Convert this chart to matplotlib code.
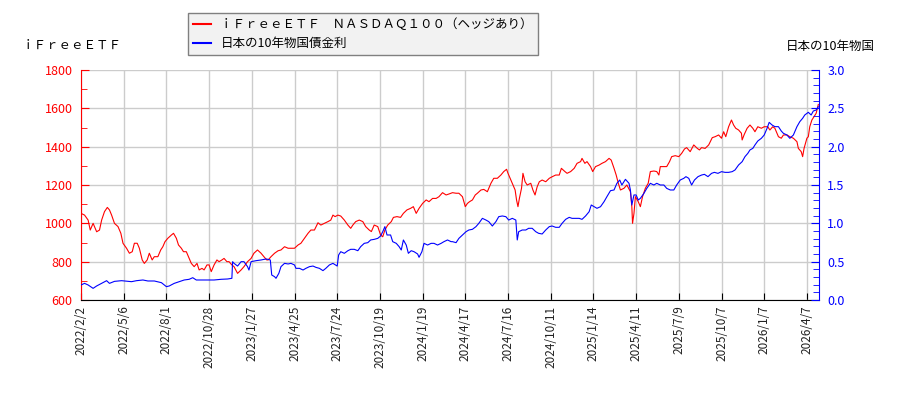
import matplotlib
matplotlib.use("Agg")
import matplotlib.pyplot as plt
from matplotlib.lines import Line2D
from matplotlib.ticker import MultipleLocator

plt.rcParams["font.family"] = ["Noto Sans CJK JP", "DejaVu Sans"]

# ── data (trading-day index, value) ──────────────────────────────────────────
etf_pts = [
    (0, 1052), (5, 1043), (10, 1017), (13, 965), (17, 1000), (22, 956), (26, 965), (29, 1017),
    (33, 1061), (37, 1083), (40, 1070), (43, 1043), (47, 1000), (52, 983), (56, 948), (59, 896),
    (64, 870), (68, 844), (72, 852), (75, 896), (79, 896), (82, 870), (86, 809), (89, 791),
    (93, 809), (96, 844), (100, 809), (103, 826), (108, 826), (112, 861), (115, 878), (118, 904),
    (122, 922), (127, 939), (130, 948), (134, 922), (137, 887), (141, 870), (144, 852), (148, 852),
    (151, 826), (155, 791), (159, 774), (163, 791), (166, 757), (170, 765), (173, 757), (177, 783),
    (180, 783), (183, 748), (187, 783), (191, 809), (194, 800), (198, 809), (201, 817), (205, 800),
    (208, 800), (212, 783), (215, 774), (220, 739), (225, 757), (229, 774), (234, 800), (239, 817),
    (243, 844), (248, 861), (253, 844), (257, 826), (261, 809), (263, 809), (267, 826), (272, 844),
    (277, 857), (281, 861), (286, 878), (291, 870), (295, 870), (300, 870), (305, 887), (309, 896),
    (314, 922), (319, 948), (323, 965), (328, 965), (333, 1003), (337, 991), (342, 1000), (347, 1009),
    (351, 1017), (354, 1043), (357, 1035), (361, 1043), (365, 1038), (370, 1017), (375, 991), (379, 974),
    (382, 991), (386, 1009), (391, 1017), (396, 1009), (400, 983), (405, 965), (408, 957), (412, 991),
    (417, 983), (421, 939), (424, 930), (427, 965), (431, 991), (436, 1009), (439, 1031), (444, 1035),
    (449, 1031), (453, 1052), (458, 1070), (463, 1078), (467, 1087), (471, 1052), (475, 1078), (480, 1104),
    (485, 1122), (489, 1113), (494, 1130), (499, 1130), (503, 1139), (508, 1160), (513, 1148), (517, 1153),
    (522, 1160), (527, 1157), (531, 1157), (536, 1139), (540, 1087), (543, 1104), (546, 1113), (550, 1122),
    (554, 1148), (557, 1157), (562, 1174), (566, 1177), (571, 1165), (576, 1209), (580, 1235), (585, 1235),
    (590, 1252), (594, 1270), (598, 1282), (600, 1261), (604, 1226), (607, 1200), (610, 1174), (612, 1122),
    (614, 1087), (616, 1130), (619, 1183), (621, 1261), (624, 1217), (627, 1200), (632, 1209), (635, 1174),
    (638, 1148), (641, 1191), (644, 1217), (648, 1226), (653, 1217), (658, 1235), (662, 1243), (667, 1252),
    (672, 1252), (675, 1287), (680, 1270), (683, 1261), (688, 1270), (693, 1287), (697, 1313), (702, 1322),
    (704, 1339), (708, 1313), (711, 1322), (716, 1296), (719, 1270), (723, 1296), (728, 1304), (732, 1313),
    (737, 1322), (742, 1339), (745, 1330), (749, 1287), (752, 1252), (755, 1209), (758, 1174), (763, 1183),
    (767, 1200), (772, 1165), (774, 1087), (775, 1000), (777, 1052), (779, 1139), (783, 1113), (786, 1087),
    (789, 1139), (793, 1183), (797, 1209), (800, 1270), (805, 1273), (809, 1270), (812, 1252), (814, 1296),
    (819, 1296), (823, 1296), (827, 1322), (830, 1348), (835, 1353), (840, 1348), (844, 1365), (848, 1388),
    (851, 1395), (856, 1374), (861, 1409), (866, 1391), (869, 1383), (872, 1395), (877, 1391), (882, 1409),
    (887, 1447), (891, 1452), (896, 1461), (900, 1444), (903, 1478), (906, 1452), (910, 1504), (914, 1539),
    (917, 1513), (920, 1496), (924, 1487), (928, 1470), (929, 1435), (932, 1464), (936, 1496), (940, 1513),
    (944, 1496), (947, 1478), (951, 1504), (956, 1496), (960, 1504), (965, 1504), (968, 1487), (972, 1504),
    (975, 1496), (980, 1452), (984, 1444), (987, 1461), (992, 1461), (996, 1452), (1001, 1444), (1006, 1426),
    (1008, 1391), (1012, 1374), (1014, 1348), (1016, 1391), (1020, 1444), (1022, 1452), (1024, 1504),
    (1027, 1539), (1030, 1557), (1033, 1574), (1036, 1620),
]

jgb_pts = [
    (0, 0.196), (5, 0.217), (10, 0.196), (17, 0.152), (22, 0.183), (29, 0.217), (36, 0.252), (40, 0.217),
    (47, 0.243), (57, 0.252), (71, 0.239), (78, 0.252), (87, 0.261), (94, 0.248), (103, 0.248), (113, 0.226),
    (120, 0.174), (124, 0.183), (131, 0.217), (138, 0.239), (145, 0.261), (152, 0.270), (157, 0.291),
    (162, 0.261), (169, 0.261), (178, 0.261), (187, 0.261), (197, 0.270), (206, 0.274), (212, 0.283),
    (213, 0.500), (215, 0.478), (220, 0.443), (225, 0.500), (229, 0.500), (234, 0.435), (236, 0.391),
    (239, 0.500), (246, 0.513), (253, 0.522), (260, 0.535), (263, 0.530), (266, 0.522), (268, 0.326),
    (272, 0.304), (274, 0.283), (278, 0.348), (281, 0.435), (286, 0.478), (291, 0.470), (295, 0.478),
    (300, 0.457), (302, 0.413), (307, 0.413), (312, 0.391), (316, 0.413), (321, 0.435), (326, 0.443),
    (330, 0.426), (335, 0.413), (340, 0.383), (344, 0.413), (349, 0.457), (354, 0.478), (360, 0.443),
    (362, 0.587), (365, 0.630), (370, 0.609), (375, 0.643), (379, 0.661), (384, 0.661), (389, 0.643),
    (393, 0.696), (398, 0.739), (403, 0.748), (407, 0.783), (412, 0.791), (417, 0.804), (421, 0.835),
    (424, 0.891), (427, 0.957), (430, 0.848), (435, 0.848), (438, 0.761), (443, 0.739), (447, 0.696),
    (450, 0.652), (453, 0.783), (457, 0.717), (460, 0.609), (464, 0.643), (468, 0.630), (473, 0.600),
    (475, 0.557), (479, 0.630), (482, 0.739), (487, 0.717), (492, 0.739), (496, 0.739), (501, 0.717),
    (506, 0.739), (510, 0.761), (515, 0.783), (520, 0.761), (522, 0.761), (527, 0.748), (531, 0.804),
    (536, 0.848), (541, 0.891), (545, 0.913), (550, 0.922), (555, 0.957), (559, 1.000), (564, 1.065),
    (569, 1.043), (573, 1.022), (578, 0.965), (583, 1.022), (587, 1.087), (592, 1.096), (597, 1.087),
    (601, 1.043), (606, 1.065), (611, 1.043), (613, 0.783), (615, 0.891), (620, 0.913), (625, 0.913),
    (629, 0.935), (634, 0.935), (639, 0.891), (643, 0.870), (648, 0.861), (653, 0.913), (658, 0.957),
    (662, 0.965), (667, 0.948), (672, 0.948), (676, 1.000), (681, 1.052), (686, 1.078), (690, 1.065),
    (695, 1.065), (700, 1.065), (704, 1.052), (709, 1.096), (714, 1.152), (717, 1.239), (721, 1.217),
    (725, 1.196), (730, 1.217), (735, 1.283), (739, 1.348), (744, 1.426), (749, 1.435), (753, 1.522),
    (757, 1.565), (760, 1.500), (765, 1.574), (770, 1.522), (772, 1.435), (774, 1.239), (777, 1.370),
    (780, 1.370), (783, 1.304), (786, 1.326), (791, 1.391), (795, 1.456), (800, 1.522), (805, 1.500),
    (809, 1.522), (814, 1.500), (819, 1.500), (823, 1.456), (828, 1.435), (833, 1.435), (837, 1.500),
    (842, 1.565), (847, 1.587), (850, 1.609), (854, 1.587), (858, 1.500), (862, 1.565), (867, 1.609),
    (872, 1.630), (876, 1.639), (881, 1.609), (886, 1.652), (890, 1.665), (895, 1.652), (900, 1.674),
    (905, 1.665), (910, 1.665), (915, 1.674), (919, 1.696), (924, 1.761), (929, 1.804), (933, 1.870),
    (937, 1.913), (940, 1.957), (944, 1.978), (947, 2.022), (951, 2.074), (956, 2.109), (960, 2.152),
    (964, 2.239), (967, 2.317), (971, 2.283), (975, 2.261), (980, 2.261), (984, 2.204), (987, 2.174),
    (992, 2.152), (996, 2.109), (1001, 2.152), (1006, 2.261), (1010, 2.326), (1014, 2.370), (1017, 2.413),
    (1022, 2.448), (1026, 2.413), (1029, 2.465), (1033, 2.478), (1036, 2.520),
]

tick_labels = [
    "2022/2/2", "2022/5/6", "2022/8/1", "2022/10/28", "2023/1/27", "2023/4/25",
    "2023/7/24", "2023/10/19", "2024/1/19", "2024/4/17", "2024/7/16", "2024/10/11",
    "2025/1/14", "2025/4/11", "2025/7/9", "2025/10/7", "2026/1/7", "2026/4/7",
]
tick_step = 60
n_days = 1037

etf_name = "ｉＦｒｅｅＥＴＦ　ＮＡＳＤＡＱ１００（ヘッジあり）"
jgb_name = "日本の10年物国債金利"

# ── plot ─────────────────────────────────────────────────────────────────────
fig = plt.figure(figsize=(9, 4), dpi=100)
ax = fig.add_axes([81 / 900, 0.25, 738 / 900, 0.575])
ax2 = ax.twinx()

etf_x, etf_y = zip(*etf_pts)
jgb_x, jgb_y = zip(*jgb_pts)
ax.plot(etf_x, etf_y, color="#ff0000", lw=0.8, zorder=3)
ax2.plot(jgb_x, jgb_y, color="#0000ff", lw=0.8, zorder=2)

ax.set_xlim(0, n_days)
ax.set_ylim(600, 1800)
ax2.set_ylim(0, 3.0)

ax.set_xticks([i * tick_step for i in range(len(tick_labels))])
ax.set_xticklabels(tick_labels, rotation=90, fontsize=8.5)
ax.yaxis.set_major_locator(MultipleLocator(200))
ax.yaxis.set_minor_locator(MultipleLocator(100))
ax2.yaxis.set_major_locator(MultipleLocator(0.5))
ax2.yaxis.set_minor_locator(MultipleLocator(0.1))
ax2.yaxis.set_major_formatter(matplotlib.ticker.FormatStrFormatter("%.1f"))

ax.grid(True, color="#cccccc", lw=1.0)
ax.set_axisbelow(True)

ax.tick_params(axis="x", direction="in", length=5, pad=4, colors="black")
ax.tick_params(axis="y", which="both", direction="in", colors="#ff0000", labelsize=9, pad=6)
ax.tick_params(axis="y", which="major", length=6)
ax.tick_params(axis="y", which="minor", length=4)
ax2.tick_params(axis="y", which="both", direction="in", colors="#0000ff", labelsize=9, pad=6)
ax2.tick_params(axis="y", which="major", length=6)
ax2.tick_params(axis="y", which="minor", length=4)
for lab in ax.get_xticklabels():
    lab.set_color("#222222")

for a in (ax, ax2):
    a.spines["top"].set_visible(False)
ax.spines["left"].set_color("#ff0000")
ax.spines["right"].set_visible(False)
ax2.spines["left"].set_visible(False)
ax2.spines["right"].set_color("#0000ff")
ax2.spines["bottom"].set_visible(False)
ax.spines["bottom"].set_color("black")

fig.text(22 / 900, 1 - 45 / 400, "ｉＦｒｅｅＥＴＦ", fontsize=9, va="center", ha="left")
fig.text(875 / 900, 1 - 46 / 400, "日本の10年物国", fontsize=9, va="center", ha="right")

handles = [Line2D([], [], color="#ff0000", lw=1.5), Line2D([], [], color="#0000ff", lw=1.5)]
leg = fig.legend(handles, [etf_name, jgb_name], loc="upper left",
                 bbox_to_anchor=(188 / 900, 1 - 13 / 400), fontsize=9,
                 frameon=True, fancybox=False, handlelength=1.4, handletextpad=0.8,
                 borderpad=0.4, labelspacing=0.5, borderaxespad=0)
leg.get_frame().set_facecolor("#f2f2f2")
leg.get_frame().set_edgecolor("#808080")
leg.get_frame().set_alpha(1.0)

fig.savefig("out.png", dpi=100)
